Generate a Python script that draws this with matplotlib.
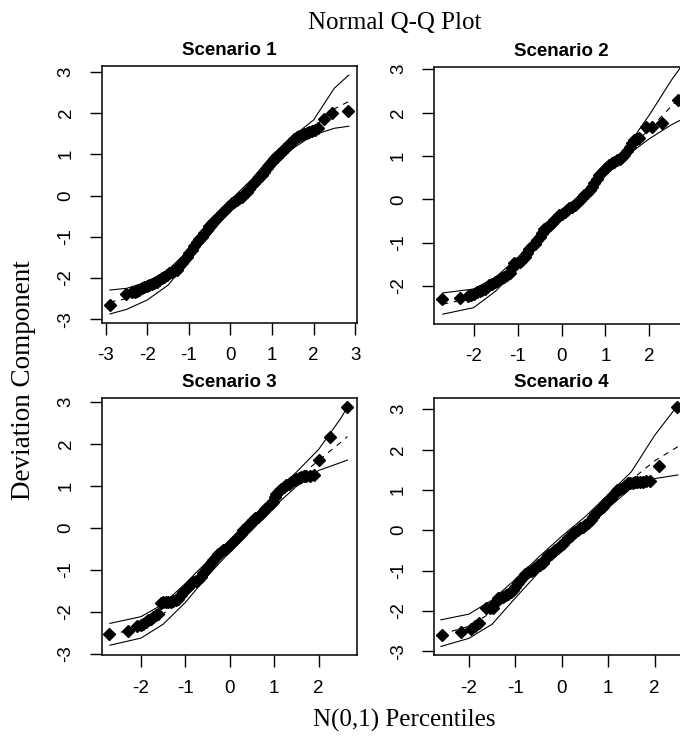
import matplotlib
matplotlib.use("Agg")
import matplotlib.pyplot as plt

plt.rcParams['axes.unicode_minus'] = False

# titulos
titles = ["Scenario 1", "Scenario 2", "Scenario 3", "Scenario 4"]

# envelope (x, limite inferior, mediana tracejada, limite superior)
env1_x = [-2.9, -2.5, -2.0, -1.5, -1.0, -0.5, 0.0, 0.5, 1.0, 1.5, 2.0, 2.5, 2.85]
env1_lo = [-2.87, -2.76, -2.53, -2.17, -1.56, -0.96, -0.35, 0.21, 0.74, 1.14, 1.47, 1.63, 1.68]
env1_md = [-2.58, -2.50, -2.31, -1.98, -1.44, -0.84, -0.23, 0.30, 0.86, 1.28, 1.65, 2.10, 2.28]
env1_hi = [-2.29, -2.25, -2.09, -1.80, -1.32, -0.71, -0.11, 0.38, 0.98, 1.43, 1.83, 2.60, 2.92]

env2_x = [-2.7, -2.0, -1.5, -1.0, -0.5, 0.0, 0.5, 1.0, 1.5, 2.0, 2.5, 2.75]
env2_lo = [-2.65, -2.50, -2.12, -1.60, -1.02, -0.47, 0.02, 0.55, 1.02, 1.40, 1.72, 1.85]
env2_md = [-2.42, -2.27, -1.96, -1.48, -0.90, -0.38, 0.10, 0.65, 1.12, 1.62, 2.15, 2.40]
env2_hi = [-2.16, -2.07, -1.80, -1.35, -0.78, -0.28, 0.18, 0.75, 1.22, 1.95, 2.75, 3.10]

env3_x = [-2.7, -2.0, -1.5, -1.0, -0.5, 0.0, 0.5, 1.0, 1.5, 2.0, 2.5, 2.65]
env3_lo = [-2.80, -2.63, -2.30, -1.78, -1.15, -0.58, -0.06, 0.50, 0.98, 1.36, 1.55, 1.61]
env3_md = [-2.55, -2.38, -2.06, -1.55, -0.97, -0.44, 0.08, 0.65, 1.15, 1.60, 2.03, 2.17]
env3_hi = [-2.28, -2.12, -1.82, -1.33, -0.80, -0.30, 0.22, 0.80, 1.32, 1.86, 2.60, 2.87]

env4_x = [-2.6, -2.0, -1.5, -1.0, -0.5, 0.0, 0.5, 1.0, 1.5, 2.0, 2.5]
env4_lo = [-2.88, -2.68, -2.33, -1.68, -1.05, -0.50, 0.02, 0.55, 1.05, 1.28, 1.37]
env4_md = [-2.58, -2.38, -2.03, -1.45, -0.86, -0.33, 0.17, 0.71, 1.25, 1.72, 2.07]
env4_hi = [-2.22, -2.08, -1.73, -1.22, -0.67, -0.15, 0.33, 0.88, 1.45, 2.35, 3.10]

# residuos ordenados (percentil N(0,1), componente do desvio)
pts1_x = [-2.91, -2.51, -2.37, -2.31, -2.25, -2.19, -2.13, -2.07, -2.01, -1.95, -1.89, -1.83,
          -1.77, -1.71, -1.65, -1.59, -1.53, -1.47, -1.41, -1.35, -1.29, -1.23, -1.17, -1.11,
          -1.05, -0.99, -0.93, -0.87, -0.81, -0.75, -0.69, -0.63, -0.57, -0.51, -0.45, -0.39,
          -0.33, -0.27, -0.21, -0.15, -0.09, -0.03, 0.03, 0.09, 0.15, 0.21, 0.27, 0.33, 0.39,
          0.45, 0.51, 0.57, 0.63, 0.69, 0.75, 0.81, 0.87, 0.93, 0.99, 1.05, 1.11, 1.17, 1.23,
          1.30, 1.36, 1.42, 1.48, 1.54, 1.60, 1.66, 1.72, 1.78, 1.84, 1.90, 1.96, 2.04, 2.12,
          2.25, 2.44, 2.82]
pts1_y = [-2.66, -2.39, -2.35, -2.33, -2.31, -2.28, -2.25, -2.22, -2.19, -2.17, -2.14, -2.12,
          -2.09, -2.05, -2.01, -1.97, -1.93, -1.89, -1.86, -1.84, -1.81, -1.72, -1.64, -1.56,
          -1.48, -1.40, -1.32, -1.22, -1.12, -1.06, -1.00, -0.92, -0.84, -0.75, -0.67, -0.61,
          -0.55, -0.49, -0.43, -0.37, -0.31, -0.25, -0.19, -0.15, -0.11, -0.07, -0.03, 0.03,
          0.09, 0.17, 0.25, 0.31, 0.38, 0.44, 0.50, 0.58, 0.66, 0.74, 0.82, 0.88, 0.94, 1.00,
          1.06, 1.12, 1.18, 1.24, 1.30, 1.37, 1.43, 1.45, 1.47, 1.49, 1.51, 1.54, 1.57, 1.60,
          1.63, 1.85, 1.99, 2.06]

pts2_x = [-2.71, -2.32, -2.13, -2.05, -1.98, -1.92, -1.86, -1.80, -1.75, -1.69, -1.64, -1.58,
          -1.52, -1.46, -1.41, -1.35, -1.30, -1.24, -1.18, -1.12, -1.07, -1.01, -0.95, -0.89,
          -0.84, -0.78, -0.73, -0.67, -0.61, -0.55, -0.50, -0.44, -0.39, -0.33, -0.27, -0.21,
          -0.16, -0.10, -0.05, 0.01, 0.07, 0.12, 0.18, 0.24, 0.30, 0.35, 0.41, 0.46, 0.52, 0.58,
          0.64, 0.70, 0.75, 0.80, 0.86, 0.92, 0.98, 1.04, 1.09, 1.15, 1.20, 1.26, 1.32, 1.38,
          1.43, 1.49, 1.55, 1.60, 1.66, 1.72, 1.77, 1.92, 2.06, 2.29, 2.64]
pts2_y = [-2.29, -2.27, -2.22, -2.20, -2.18, -2.15, -2.12, -2.09, -2.06, -2.02, -1.98, -1.95,
          -1.91, -1.88, -1.85, -1.82, -1.79, -1.75, -1.71, -1.59, -1.48, -1.46, -1.44, -1.39,
          -1.33, -1.23, -1.14, -1.08, -1.02, -0.95, -0.87, -0.77, -0.68, -0.64, -0.60, -0.54,
          -0.48, -0.42, -0.37, -0.33, -0.29, -0.25, -0.21, -0.18, -0.14, -0.08, -0.02, 0.04,
          0.10, 0.15, 0.21, 0.29, 0.37, 0.46, 0.56, 0.64, 0.71, 0.75, 0.79, 0.83, 0.87, 0.90,
          0.94, 0.98, 1.02, 1.12, 1.21, 1.29, 1.37, 1.39, 1.41, 1.68, 1.66, 1.77, 2.29]

pts3_x = [-2.71, -2.30, -2.08, -2.01, -1.95, -1.89, -1.84, -1.78, -1.72, -1.66, -1.61, -1.55,
          -1.50, -1.44, -1.39, -1.33, -1.27, -1.21, -1.16, -1.10, -1.05, -0.99, -0.94, -0.88,
          -0.82, -0.76, -0.71, -0.65, -0.60, -0.54, -0.49, -0.43, -0.37, -0.31, -0.26, -0.20,
          -0.15, -0.09, -0.04, 0.02, 0.07, 0.13, 0.19, 0.25, 0.30, 0.36, 0.41, 0.47, 0.52, 0.58,
          0.64, 0.70, 0.75, 0.80, 0.86, 0.92, 0.97, 1.01, 1.05, 1.11, 1.16, 1.22, 1.27, 1.33,
          1.39, 1.45, 1.50, 1.56, 1.61, 1.67, 1.72, 1.80, 1.89, 2.02, 2.25, 2.64]
pts3_y = [-2.54, -2.46, -2.35, -2.32, -2.29, -2.25, -2.21, -2.17, -2.13, -2.09, -2.05, -1.80,
          -1.77, -1.77, -1.77, -1.76, -1.75, -1.72, -1.70, -1.60, -1.53, -1.47, -1.41, -1.35,
          -1.29, -1.27, -1.25, -1.17, -1.09, -1.01, -0.93, -0.85, -0.78, -0.70, -0.62, -0.58,
          -0.54, -0.50, -0.46, -0.40, -0.34, -0.28, -0.22, -0.14, -0.06, 0.00, 0.06, 0.12,
          0.18, 0.22, 0.26, 0.32, 0.38, 0.44, 0.50, 0.56, 0.62, 0.72, 0.81, 0.87, 0.93, 0.97,
          1.01, 1.05, 1.09, 1.13, 1.17, 1.19, 1.21, 1.22, 1.23, 1.24, 1.25, 1.61, 2.15, 2.87]

pts4_x = [-2.57, -2.16, -1.96, -1.87, -1.79, -1.63, -1.55, -1.48, -1.43, -1.38, -1.32, -1.27,
          -1.21, -1.16, -1.10, -1.05, -1.00, -0.95, -0.89, -0.84, -0.79, -0.73, -0.67, -0.62,
          -0.57, -0.52, -0.46, -0.41, -0.35, -0.30, -0.24, -0.19, -0.14, -0.09, -0.03, 0.02,
          0.08, 0.13, 0.19, 0.24, 0.29, 0.34, 0.40, 0.45, 0.51, 0.56, 0.62, 0.67, 0.72, 0.77,
          0.83, 0.88, 0.94, 0.99, 1.05, 1.10, 1.15, 1.20, 1.26, 1.31, 1.37, 1.42, 1.48, 1.53,
          1.58, 1.63, 1.69, 1.74, 1.81, 1.89, 2.10, 2.49]
pts4_y = [-2.59, -2.52, -2.44, -2.38, -2.31, -1.94, -1.94, -1.94, -1.80, -1.69, -1.67, -1.65,
          -1.61, -1.57, -1.52, -1.47, -1.40, -1.32, -1.24, -1.15, -1.09, -1.03, -1.01, -0.99,
          -0.93, -0.87, -0.85, -0.82, -0.72, -0.62, -0.58, -0.53, -0.49, -0.45, -0.39, -0.33,
          -0.26, -0.20, -0.14, -0.08, -0.04, 0.00, 0.05, 0.09, 0.13, 0.17, 0.25, 0.33, 0.40,
          0.46, 0.52, 0.58, 0.67, 0.75, 0.81, 0.87, 0.93, 1.00, 1.02, 1.04, 1.10, 1.16, 1.17,
          1.18, 1.19, 1.20, 1.20, 1.20, 1.21, 1.23, 1.59, 3.05]

xticks = [[-3, -2, -1, 0, 1, 2, 3], [-2, -1, 0, 1, 2], [-2, -1, 0, 1, 2], [-2, -1, 0, 1, 2]]
yticks = [[-3, -2, -1, 0, 1, 2, 3], [-2, -1, 0, 1, 2, 3], [-3, -2, -1, 0, 1, 2, 3],
          [-3, -2, -1, 0, 1, 2, 3]]

envs = [(env1_x, env1_lo, env1_md, env1_hi), (env2_x, env2_lo, env2_md, env2_hi),
        (env3_x, env3_lo, env3_md, env3_hi), (env4_x, env4_lo, env4_md, env4_hi)]
pts = [(pts1_x, pts1_y), (pts2_x, pts2_y), (pts3_x, pts3_y), (pts4_x, pts4_y)]

xlims = [(-3.1, 3.04), (-2.9, 2.9), (-2.885, 2.86), (-2.75, 2.74)]
ylims = [(-3.09, 3.14), (-2.87, 3.06), (-3.04, 3.08), (-3.1, 3.27)]

W, H = 680, 742
fig = plt.figure(figsize=(W / 100, H / 100), dpi=100)

# caixas em pixels: (esquerda, topo)
boxes = [(101.7, 66), (434, 66.7), (101.7, 398.3), (434, 398.3)]
bw, bh = 255, 257

for i in range(4):
    l, t = boxes[i]
    ax = fig.add_axes([l / W, 1 - (t + bh) / H, bw / W, bh / H])
    ex, lo, md, hi = envs[i]
    ax.plot(ex, lo, color="black", lw=0.8)
    ax.plot(ex, hi, color="black", lw=0.8)
    ax.plot(ex, md, color="black", lw=0.8, linestyle=(0, (5, 5)))
    px, py = pts[i]
    ax.plot(px, py, linestyle="none", marker="D", markersize=6.3, color="black", zorder=3)
    ax.set_xlim(xlims[i])
    ax.set_ylim(ylims[i])
    ax.set_xticks(xticks[i])
    ax.set_yticks(yticks[i])
    ax.tick_params(axis="x", length=8.5, width=1, labelsize=13.5, pad=9)
    ax.tick_params(axis="y", length=8.5, width=1, labelsize=13.5, pad=11)
    for lab in ax.get_xticklabels() + ax.get_yticklabels():
        lab.set_family("Liberation Sans")
    for lab in ax.get_yticklabels():
        lab.set_rotation(90)
        lab.set_va("center")
    for s in ax.spines.values():
        s.set_linewidth(1.1)
    ax.set_title(titles[i], fontsize=13.5, fontweight="bold", family="Liberation Sans", pad=8)

fig.text(395 / W, 1 - 23 / H, "Normal Q-Q Plot", ha="center", va="center",
         family="Liberation Serif", fontsize=18)
fig.text(24 / W, 1 - 380 / H, "Deviation Component", ha="center", va="center", rotation=90,
         family="Liberation Serif", fontsize=19.5)
fig.text(404 / W, 1 - 720 / H, "N(0,1) Percentiles", ha="center", va="center",
         family="Liberation Serif", fontsize=18)

fig.savefig("out.png", dpi=100)
